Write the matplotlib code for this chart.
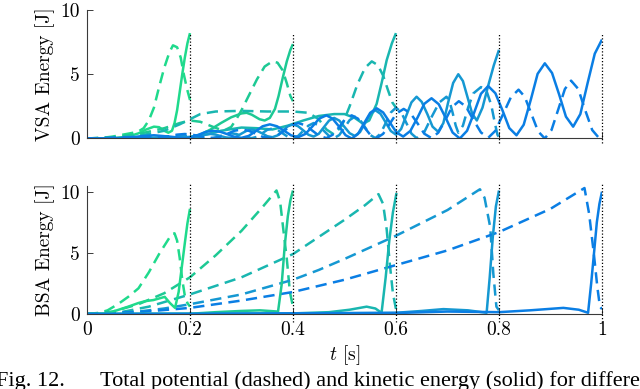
import matplotlib
matplotlib.use("Agg")
import matplotlib.pyplot as plt

plt.rcParams['font.family'] = 'cmr10'
plt.rcParams['mathtext.fontset'] = 'cm'
plt.rcParams['axes.unicode_minus'] = False

# final times of the five throws
final_times = [0.2, 0.4, 0.6, 0.8, 1.0]
colors = ['#1fda8c', '#1dc994', '#19b6b0', '#1598d2', '#0a7ee4']

# ---------------- VSA (top) ----------------
vsa_kin_t = [
    [0, 0.05, 0.08, 0.1, 0.115, 0.13, 0.14, 0.15, 0.158, 0.165, 0.17, 0.175, 0.18, 0.185, 0.19, 0.195, 0.2],
    [0, 0.1, 0.15, 0.2, 0.22, 0.24, 0.26, 0.28, 0.3, 0.31, 0.32, 0.335, 0.345, 0.355, 0.365, 0.372, 0.38,
     0.388, 0.395, 0.4],
    [0, 0.1, 0.2, 0.23, 0.26, 0.3, 0.33, 0.36, 0.39, 0.42, 0.45, 0.48, 0.5, 0.52, 0.536, 0.548, 0.5625,
     0.572, 0.582, 0.592, 0.6],
    [0, 0.1, 0.15, 0.2, 0.22, 0.24, 0.25, 0.26, 0.27, 0.28, 0.29, 0.3, 0.31, 0.32, 0.33, 0.34, 0.35, 0.36,
     0.37, 0.38, 0.39, 0.4, 0.41, 0.42, 0.43, 0.44, 0.45, 0.46, 0.47, 0.48, 0.49, 0.5, 0.51, 0.52,
     0.53, 0.54, 0.55, 0.56, 0.57, 0.58, 0.59, 0.6, 0.61, 0.62, 0.63, 0.64, 0.65, 0.661, 0.671, 0.682,
     0.692, 0.701, 0.711, 0.721, 0.73, 0.739, 0.748, 0.757, 0.768, 0.779, 0.79, 0.8],
    [0, 0.04, 0.08, 0.105, 0.13, 0.16, 0.19, 0.204, 0.218, 0.231, 0.245, 0.259, 0.273, 0.286, 0.3,
     0.314, 0.328, 0.341, 0.355, 0.369, 0.383, 0.396, 0.41, 0.424, 0.438, 0.451, 0.465, 0.477, 0.49,
     0.502, 0.514, 0.526, 0.538, 0.55, 0.5625, 0.575, 0.588, 0.601, 0.614, 0.628, 0.642, 0.655, 0.669,
     0.683, 0.697, 0.71, 0.724, 0.738, 0.752, 0.765, 0.779, 0.793, 0.807, 0.82, 0.834, 0.848, 0.862,
     0.875, 0.889, 0.903, 0.917, 0.93, 0.944, 0.958, 0.972, 0.986, 1.0],
]
vsa_kin_e = [
    [0, 0.02, 0.15, 0.4, 0.7, 0.92, 0.88, 0.6, 0.45, 0.6, 1.2, 2.2, 3.6, 5.0, 6.3, 7.4, 8.2],
    [0, 0.02, 0.05, 0.1, 0.3, 0.7, 1.2, 1.65, 1.95, 2.0, 1.85, 1.5, 1.4, 1.6, 2.3, 3.3, 4.7,
     6.0, 6.9, 7.35],
    [0, 0.02, 0.1, 0.3, 0.6, 0.85, 0.8, 0.7, 1.0, 1.4, 1.75, 1.9, 1.9, 1.6, 1.15, 1.4, 2.7,
     4.3, 6.1, 7.4, 8.2],
    [0, 0.02, 0.05, 0.12, 0.25, 0.35, 0.3, 0.18, 0.08, 0.05, 0.14, 0.38, 0.6, 0.7, 0.6, 0.4, 0.18, 0.1,
     0.24, 0.6, 0.95, 1.1, 0.95, 0.63, 0.29, 0.15, 0.36, 0.88, 1.39, 1.6, 1.39, 0.9, 0.41, 0.2,
     0.49, 1.2, 1.91, 2.2, 1.92, 1.25, 0.58, 0.3, 0.74, 1.78, 2.81, 3.25, 2.85, 1.89, 0.92, 0.52,
     1.2, 2.76, 4.32, 5.0, 4.47, 3.2, 1.93, 1.4, 2.4, 4.1, 5.7, 6.9],
    [0, 0.01, 0.06, 0.18, 0.25, 0.15, 0.02, 0.1, 0.31, 0.52, 0.6, 0.52, 0.33, 0.13, 0.05,
     0.2, 0.58, 0.95, 1.1, 0.95, 0.6, 0.25, 0.1, 0.35, 0.95, 1.55, 1.8, 1.54, 0.9,
     0.26, 0.0, 0.34, 1.18, 2.0, 2.35, 2.03, 1.25, 0.47, 0.15, 0.59, 1.64, 2.7, 3.13,
     2.67, 1.57, 0.46, 0.0, 0.6, 2.04, 3.48, 4.08, 3.52, 2.17, 0.81, 0.25, 1.07, 3.05,
     5.03, 5.85, 5.1, 3.4, 1.7, 0.92, 1.9, 4.3, 6.6, 7.7],
]
vsa_pot_t = [
    [0, 0.03, 0.05, 0.07, 0.09, 0.1, 0.11, 0.12, 0.13, 0.14, 0.15, 0.16, 0.167, 0.175, 0.182, 0.188,
     0.194, 0.2],
    [0, 0.05, 0.1, 0.15, 0.18, 0.2, 0.22, 0.245, 0.265, 0.28, 0.29, 0.3, 0.315, 0.33, 0.345, 0.36,
     0.37, 0.38, 0.388, 0.395, 0.4],
    [0, 0.05, 0.1, 0.15, 0.18, 0.2, 0.22, 0.25, 0.3, 0.35, 0.4, 0.43, 0.45, 0.465, 0.48, 0.495, 0.51,
     0.525, 0.54, 0.553, 0.565, 0.575, 0.585, 0.593, 0.6],
    [0, 0.05, 0.1, 0.15, 0.18, 0.2, 0.22, 0.24, 0.25, 0.26, 0.27, 0.28, 0.29, 0.3, 0.31, 0.32,
     0.33, 0.34, 0.35, 0.36, 0.37, 0.38, 0.39, 0.4, 0.41, 0.42, 0.43, 0.44, 0.45, 0.46, 0.47, 0.48,
     0.49, 0.5, 0.51, 0.52, 0.53, 0.54, 0.55, 0.56, 0.57, 0.58, 0.59, 0.6, 0.61, 0.62, 0.63, 0.64,
     0.655, 0.669, 0.684, 0.698, 0.704, 0.71, 0.716, 0.721, 0.73, 0.74, 0.75, 0.765, 0.775, 0.785,
     0.792, 0.797, 0.8],
    [0, 0.03, 0.06, 0.08, 0.105, 0.13, 0.145, 0.16, 0.175, 0.19, 0.204, 0.218, 0.231, 0.245,
     0.259, 0.273, 0.286, 0.3, 0.314, 0.328, 0.341, 0.355, 0.369, 0.383, 0.396, 0.41, 0.424, 0.438,
     0.451, 0.465, 0.477, 0.49, 0.502, 0.514, 0.526, 0.538, 0.55, 0.5625, 0.575, 0.588, 0.601, 0.615,
     0.628, 0.642, 0.655, 0.669, 0.682, 0.696, 0.709, 0.722, 0.736, 0.75, 0.765, 0.779, 0.793, 0.808,
     0.823, 0.838, 0.85, 0.863, 0.876, 0.889, 0.902, 0.915, 0.928, 0.94, 0.954, 0.967, 0.981, 0.995,
     1.0],
]
vsa_pot_e = [
    [0, 0.05, 0.15, 0.3, 0.45, 0.55, 0.8, 1.4, 2.4, 4.0, 5.5, 6.7, 7.25, 7.1, 6.3, 5.0, 3.9, 3.0],
    [0, 0.1, 0.35, 0.8, 1.2, 1.4, 1.3, 0.9, 0.6, 0.9, 1.5, 2.2, 3.4, 4.6, 5.6, 6.0, 5.9, 5.3, 4.3,
     3.3, 2.9],
    [0, 0.05, 0.2, 0.6, 1.1, 1.5, 1.9, 2.1, 2.15, 2.1, 2.1, 2.0, 1.5, 0.7, 0.3, 1.0, 2.5, 4.2, 5.5,
     6.0, 5.7, 4.9, 3.7, 2.8, 2.4],
    [0, 0.02, 0.08, 0.15, 0.2, 0.18, 0.08, 0.03, 0.08, 0.2, 0.35, 0.4, 0.35, 0.2, 0.08, 0.03,
     0.13, 0.4, 0.67, 0.78, 0.67, 0.4, 0.13, 0.03, 0.2, 0.6, 1.0, 1.2, 1.03, 0.6, 0.2, 0.03,
     0.27, 0.85, 1.43, 1.7, 1.46, 0.87, 0.27, 0.03, 0.37, 1.2, 2.02, 2.4, 2.05, 1.22, 0.38, 0.03,
     0.5, 1.66, 2.8, 3.25, 2.9, 2.0, 1.0, 0.45, 1.0, 2.4, 3.5, 4.0, 3.8, 2.6, 1.2, 0.3, 0.1],
    [0, 0.03, 0.08, 0.1, 0.07, 0.03, 0.07, 0.18, 0.3, 0.35, 0.3, 0.18, 0.07, 0.03,
     0.13, 0.37, 0.6, 0.7, 0.6, 0.37, 0.13, 0.03, 0.2, 0.6, 1.0, 1.2, 1.03, 0.6,
     0.2, 0.03, 0.29, 0.9, 1.55, 1.8, 1.55, 0.9, 0.29, 0.03, 0.36, 1.15, 1.95, 2.3,
     1.97, 1.17, 0.37, 0.03, 0.45, 1.45, 2.45, 2.9, 2.48, 1.47, 0.47, 0.05, 0.6, 1.9,
     3.2, 3.8, 3.25, 1.9, 0.55, 0.0, 0.66, 2.25, 3.85, 4.5, 3.85, 2.25, 0.66, 0.0,
     0.0],
]

# ---------------- BSA (bottom) ----------------
bsa_kin_t = [
    [0, 0.04, 0.058, 0.08, 0.1, 0.113, 0.129, 0.151, 0.161, 0.171, 0.178, 0.184, 0.19, 0.195, 0.2],
    [0, 0.2, 0.25, 0.3, 0.336, 0.371, 0.378, 0.384, 0.39, 0.395, 0.4],
    [0, 0.2, 0.4, 0.47, 0.51, 0.543, 0.56, 0.572, 0.58, 0.587, 0.594, 0.601],
    [0, 0.2, 0.4, 0.6, 0.65, 0.692, 0.74, 0.776, 0.782, 0.788, 0.794, 0.8],
    [0, 0.2, 0.4, 0.6, 0.7, 0.8, 0.86, 0.925, 0.955, 0.973, 0.979, 0.985, 0.99, 0.995, 1.0],
]
bsa_kin_e = [
    [0, 0.05, 0.3, 0.6, 0.9, 1.05, 1.14, 1.4, 0.9, 0.5, 1.8, 3.8, 5.8, 7.4, 8.6],
    [0, 0.02, 0.15, 0.25, 0.3, 0.2, 2.4, 5.6, 8.0, 9.3, 10.1],
    [0, 0.01, 0.05, 0.15, 0.35, 0.6, 0.45, 0.1, 3.0, 6.0, 8.3, 9.9],
    [0, 0.01, 0.05, 0.1, 0.25, 0.4, 0.3, 0.1, 3.0, 6.3, 8.8, 10.1],
    [0, 0.0, 0.05, 0.08, 0.2, 0.15, 0.3, 0.5, 0.35, 0.1, 2.5, 5.2, 7.5, 9.0, 10.0],
]
bsa_pot_t = [
    [0, 0.02, 0.04, 0.06, 0.08, 0.1, 0.12, 0.14, 0.155, 0.164, 0.17, 0.175, 0.18, 0.185, 0.19, 0.195,
     0.2],
    [0, 0.05, 0.1, 0.15, 0.2, 0.25, 0.3, 0.34, 0.368, 0.375, 0.381, 0.388, 0.394, 0.4],
    [0, 0.06, 0.12, 0.2, 0.3, 0.4, 0.45, 0.5, 0.54, 0.566, 0.575, 0.582, 0.588, 0.594, 0.6],
    [0, 0.1, 0.15, 0.2, 0.3, 0.4, 0.45, 0.5, 0.6, 0.7, 0.763, 0.772, 0.783, 0.789, 0.795, 0.8],
    [0, 0.1, 0.2, 0.3, 0.4, 0.5, 0.6, 0.7, 0.8, 0.9, 0.966, 0.975, 0.984, 0.991, 0.996, 1.0],
]
bsa_pot_e = [
    [0, 0.05, 0.3, 0.8, 1.4, 2.1, 3.4, 4.9, 5.9, 6.5, 6.6, 6.0, 4.6, 2.8, 1.5, 0.9, 0.6],
    [0, 0.2, 0.8, 1.7, 3.0, 4.8, 6.8, 8.7, 10.1, 9.2, 7.0, 4.5, 1.8, 0.6],
    [0, 0.1, 0.6, 1.6, 3.0, 4.9, 6.3, 7.7, 8.9, 9.8, 9.0, 6.9, 4.1, 1.7, 0.4],
    [0, 0.2, 0.45, 0.8, 1.6, 2.8, 3.6, 4.5, 6.4, 8.5, 10.2, 9.5, 7.1, 3.3, 0.6, 0.3],
    [0, 0.15, 0.5, 1.1, 1.8, 2.8, 4.0, 5.2, 6.7, 8.6, 10.3, 8.2, 5.0, 2.2, 0.6, 0.4],
]

fig = plt.figure(figsize=(6.4, 3.89), dpi=100)
ax1 = fig.add_axes([0.1359, 0.644, 0.8047, 0.3303])
ax2 = fig.add_axes([0.1359, 0.1928, 0.8047, 0.3301])

dash = (4.5, 2.6)
lw = 1.8
for i in range(5):
    ax1.plot(vsa_kin_t[i], vsa_kin_e[i], color=colors[i], lw=lw, solid_capstyle='butt')
    ax1.plot(vsa_pot_t[i], vsa_pot_e[i], color=colors[i], lw=lw, dashes=dash)
    ax2.plot(bsa_pot_t[i], bsa_pot_e[i], color=colors[i], lw=lw, dashes=dash)
for i in range(5):
    ax2.plot(bsa_kin_t[i], bsa_kin_e[i], color=colors[i], lw=lw, solid_capstyle='butt')

for T in final_times:
    ax1.plot([T, T], [-0.35, 8.2], color='k', lw=0.9, ls=(0, (1, 1.6)), clip_on=False, zorder=5)
    ax2.plot([T, T], [-0.65, 10.6], color='k', lw=0.9, ls=(0, (1, 1.6)), clip_on=False, zorder=5)

for ax, top in [(ax1, 10), (ax2, 10.5)]:
    ax.set_xlim(0, 1)
    ax.set_ylim(0, top)
    ax.set_yticks([0, 5, 10])
    ax.set_xticks([0, 0.2, 0.4, 0.6, 0.8, 1])
    for s in ['top', 'right']:
        ax.spines[s].set_visible(False)
    for s in ['left', 'bottom']:
        ax.spines[s].set_color('#3a3a3a')
        ax.spines[s].set_linewidth(0.8)
    ax.tick_params(direction='in', length=4, width=0.7, colors='#3a3a3a', labelcolor='k',
                   labelsize=14, pad=5)
    ax.patch.set_alpha(0)

ax1.set_xticklabels([])
ax2.set_xticklabels(['0', '0.2', '0.4', '0.6', '0.8', '1'])
ax1.set_ylabel('VSA Energy [J]', fontsize=14)
ax2.set_ylabel('BSA Energy [J]', fontsize=14)
ax1.yaxis.set_label_coords(-0.062, 0.5)
ax2.yaxis.set_label_coords(-0.062, 0.5)
ax2.set_xlabel('$t$ [s]', fontsize=14, labelpad=3)

# caption, cut at the figure edges as in the source
fig.text(-0.006, 0.008, 'Fig. 12.', fontsize=16, family='Liberation Serif', va='baseline')
fig.text(0.156, 0.008, 'Total potential (dashed) and kinetic energy (solid) for different',
         fontsize=16, family='Liberation Serif', va='baseline')

fig.savefig('out.png', dpi=100)
